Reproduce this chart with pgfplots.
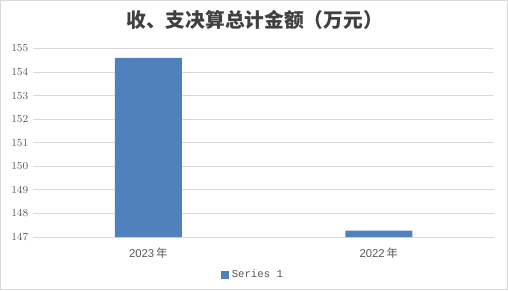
\documentclass[border=0pt]{standalone}
\usepackage{pgfplots}
\pgfplotsset{compat=1.18}
\usepackage{fontspec}
\setmainfont{Liberation Sans}
\newfontfamily\cjk{Noto Sans CJK SC}
\newfontfamily\mono{Liberation Mono}
\definecolor{barblue}{HTML}{4F81BD}
\definecolor{gridgray}{HTML}{D9D9D9}
\definecolor{txtgray}{HTML}{595959}
\definecolor{titlegray}{HTML}{404040}
\begin{document}
\begin{tikzpicture}
\draw[gridgray,line width=0.75pt] (0.375pt,0.375pt) rectangle (380.625pt,217.125pt);
\begin{axis}[
  at={(24.75pt,39.75pt)}, anchor=south west,
  scale only axis, width=345.75pt, height=141.4pt,
  xmin=-0.5, xmax=1.5, ymin=147, ymax=155,
  ytick={147,148,...,155},
  xtick={0,1}, xticklabels={2023\,{\cjk 年},2022\,{\cjk 年}},
  axis x line*=bottom,
  x axis line style={draw=gridgray, line width=0.75pt, -},
  axis y line*=left,
  y axis line style={draw=none},
  ymajorgrids, grid style={gridgray, line width=0.6pt},
  major tick length=0pt,
  tick label style={font=\fontsize{8.5}{10}\selectfont, text=txtgray},
  yticklabel style={font=\fontfamily{lmr}\selectfont\fontsize{8.5}{10}\selectfont, text=txtgray},
  xticklabel style={yshift=-5pt},
  legend style={at={(0.478,-0.152)}, anchor=north, draw=none, font=\mono\fontsize{8}{10}\selectfont, text=txtgray, legend cell align=left, inner sep=1pt},
  legend image code/.code={\fill[barblue] (0pt,-3pt) rectangle (6pt,3pt);},
  clip=false,
]
\addplot[ybar, bar width=50.25pt, fill=barblue, draw=none] coordinates {(0,154.6) (1,147.27)};
\addlegendentry{Series 1}
\end{axis}
\node[font=\cjk\fontsize{14.8}{17}\selectfont\bfseries,text=titlegray] at (191pt,202.5pt) {收、支决算总计金额（万元）};
\end{tikzpicture}
\end{document}
